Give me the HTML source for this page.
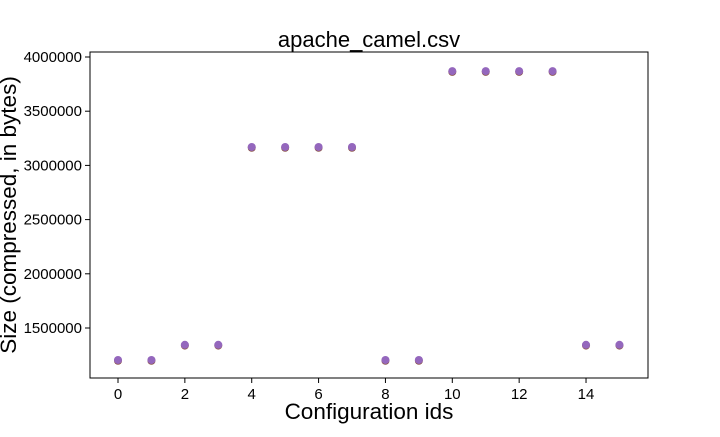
<!DOCTYPE html>
<html><head><meta charset="utf-8"><style>
body{margin:0;background:#fff;font-family:"Liberation Sans",sans-serif}
</style></head><body>
<svg id="chart" width="720" height="432" xmlns="http://www.w3.org/2000/svg">
<rect width="720" height="432" fill="#fff"/>
<text x="369" y="47" font-size="22" text-anchor="middle" font-family="Liberation Sans, sans-serif">apache_camel.csv</text>
<g id="axes"></g>
<g id="marks"></g>
<rect x="90" y="52" width="558" height="326" fill="none" stroke="#000" stroke-width="1"/>
<text x="369" y="419" font-size="22.5" text-anchor="middle">Configuration ids</text>
<text transform="translate(16,215) rotate(-90)" font-size="22.5" text-anchor="middle">Size (compressed, in bytes)</text>
</svg>
<script>
const configIds=[0,1,2,3,4,5,6,7,8,9,10,11,12,13,14,15];
const sizes=[1205000,1205000,1345000,1345000,3170000,3170000,3170000,3170000,1205000,1205000,3870000,3870000,3870000,3870000,1345000,1345000];
const xTicks=[0,2,4,6,8,10,12,14];
const yTicks=[1500000,2000000,2500000,3000000,3500000,4000000];
const NS="http://www.w3.org/2000/svg";
function xs(v){return 118+(v)*33.43;}
function ys(v){return 328-(v-1500000)/1000000*108.4;}
const axes=document.getElementById('axes'),marks=document.getElementById('marks');
function mk(tag,attrs,parent){const e=document.createElementNS(NS,tag);for(const k in attrs)e.setAttribute(k,attrs[k]);parent.appendChild(e);return e;}
xTicks.forEach(t=>{
  const l=mk('line',{x1:xs(t),x2:xs(t),y1:378,y2:383,stroke:'#000'},axes);
  
  
  const tx=mk('text',{x:xs(t),y:399,'font-size':15,'text-anchor':'middle'},axes);
  tx.textContent=t;
  
  
});
yTicks.forEach(t=>{
  const l=mk('line',{x1:85,x2:90,y1:ys(t),y2:ys(t),stroke:'#000'},axes);
  
  
  const tx=mk('text',{x:82,y:ys(t)+5,'font-size':15,'text-anchor':'end'},axes);
  tx.textContent=t;
  
  
});
configIds.forEach((c,i)=>{
  const r=mk('circle',{cx:xs(c),cy:ys(sizes[i])+0.8,r:4,fill:'#8c564b'},marks);
  
  
  const p=mk('circle',{cx:xs(c),cy:ys(sizes[i]),r:4,fill:'#9467bd'},marks);
  
  
});
</script>
</body></html>
